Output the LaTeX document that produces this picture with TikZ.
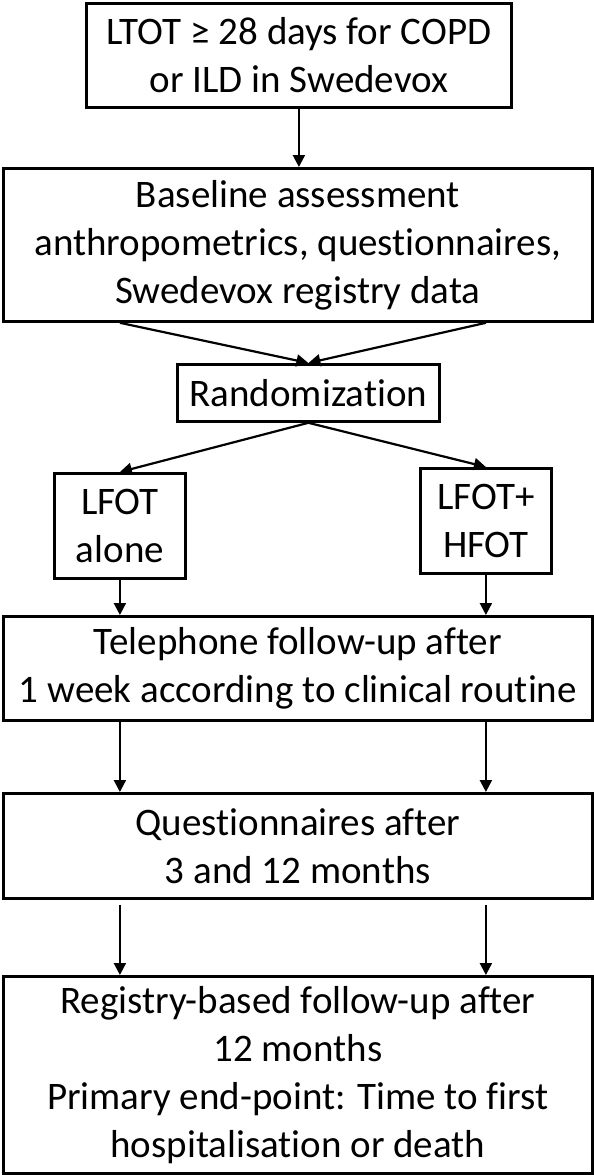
\documentclass[tikz,border=0pt]{standalone}
\usepackage{fontspec}
\setmainfont{Carlito}[Ligatures={NoCommon}]
\usepackage{tikz}
\usetikzlibrary{arrows.meta,positioning,calc}
\tikzset{
  blk/.style ={draw, rectangle, align=center, inner sep=0pt, line width=2.8pt,
               font=\fontsize{39}{48}\selectfont},
  ar/.style  ={-{Triangle[length=12pt,width=12pt]}, line width=2.2pt},
}
\begin{document}
\begin{tikzpicture}[x=1pt,y=1pt]
\useasboundingbox (0,0) rectangle (594,-1175);
\node[blk, anchor=north west, minimum width=425pt, minimum height=104pt] (ltot) at (85,-2)
  {LTOT ≥ 28 days for COPD\\or ILD in Swedevox};
\node[blk, anchor=north west, minimum width=589pt, minimum height=153pt] (base) at (2,-167)
  {Baseline assessment\\anthropometrics, questionnaires,\\Swedevox registry data};
\node[blk, anchor=north west, minimum width=262pt, minimum height=57pt] (rand) at (176,-363)
  {Randomization};
\node[blk, anchor=north west, minimum width=131pt, minimum height=105pt] (lfot) at (53,-472)
  {LFOT\\alone};
\node[blk, anchor=north west, minimum width=131pt, minimum height=105pt] (hfot) at (419,-467)
  {LFOT+\\HFOT};
\node[blk, anchor=north west, minimum width=589pt, minimum height=104pt] (tel) at (2,-615)
  {Telephone follow-up after\\1 week according to clinical routine};
\node[blk, anchor=north west, minimum width=589pt, minimum height=105pt] (quest) at (2,-792)
  {Questionnaires after\\3 and 12 months};
\node[blk, anchor=north west, minimum width=589pt, minimum height=197pt] (reg) at (2,-975)
  {Registry-based follow-up after\\12 months\\Primary end-point: Time to first\\hospitalisation or death};
% into and out of the randomization
\draw[ar] (ltot.south) -- (base.north -| ltot.south);
\draw[ar] (base.south -| lfot.south) -- (rand.north);
\draw[ar] (base.south -| hfot.south) -- (rand.north);
\draw[ar] (rand.south) -- (lfot.north);
\draw[ar] (rand.south) -- (hfot.north);
% the two arms
\draw[ar] (lfot.south) -- (tel.north -| lfot.south);
\draw[ar] (hfot.south) -- (tel.north -| hfot.south);
\draw[ar] (tel.south -| lfot.south) -- (quest.north -| lfot.south);
\draw[ar] (tel.south -| hfot.south) -- (quest.north -| hfot.south);
\draw[ar] ($(quest.south -| lfot.south)+(0,-5)$) -- (reg.north -| lfot.south);
\draw[ar] ($(quest.south -| hfot.south)+(0,-5)$) -- (reg.north -| hfot.south);
\end{tikzpicture}
\end{document}
